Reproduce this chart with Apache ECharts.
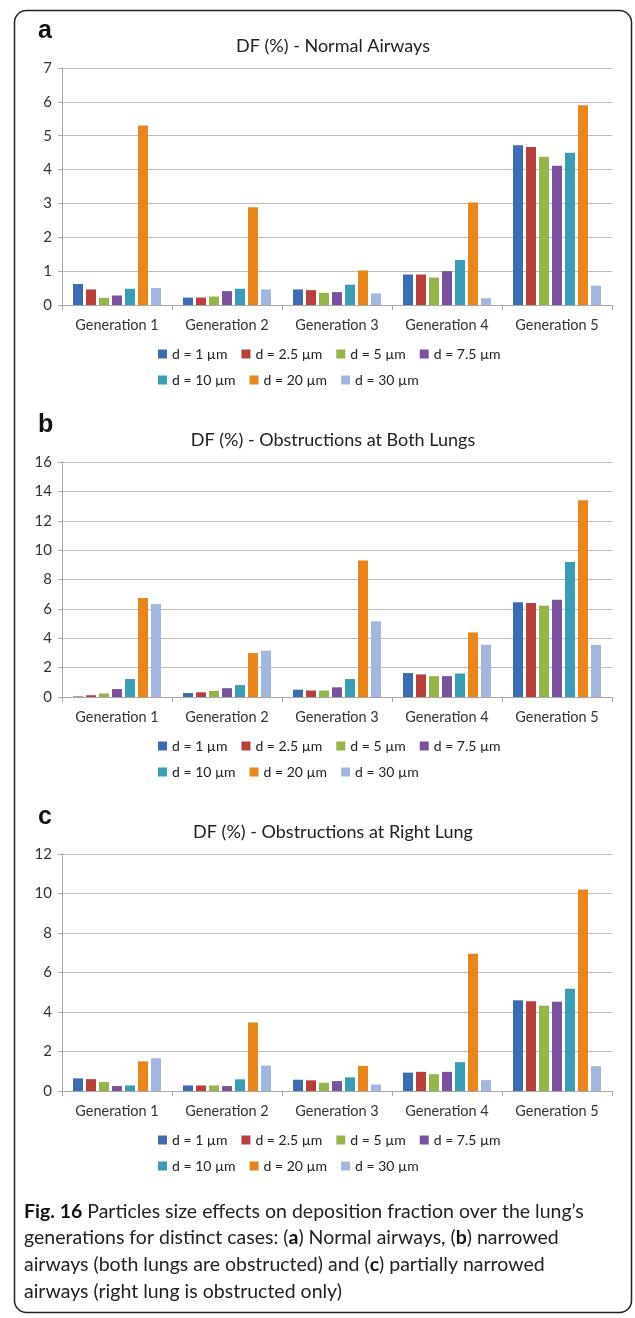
<!DOCTYPE html>
<html>
<head>
<meta charset="utf-8">
<script src="https://cdn.jsdelivr.net/npm/echarts@6/dist/echarts.min.js"></script>
<style>
  html, body { margin: 0; padding: 0; background: #fff; }
  #chart { width: 635px; height: 1318px; }
</style>
</head>
<body>
<div id="chart"></div>
<script>
const generations = ["Generation 1", "Generation 2", "Generation 3", "Generation 4", "Generation 5"];
const sizes = ["d = 1 µm", "d = 2.5 µm", "d = 5 µm", "d = 7.5 µm", "d = 10 µm", "d = 20 µm", "d = 30 µm"];
const colors = ["#3c6db2", "#b8403b", "#93b549", "#7a529f", "#3b9cb6", "#e8851d", "#a2b6e0"];

// deposition fraction (%) per particle size, one value per generation
const normalAirways = [
  [0.62, 0.22, 0.46, 0.90, 4.72],
  [0.46, 0.22, 0.44, 0.90, 4.67],
  [0.21, 0.25, 0.36, 0.81, 4.38],
  [0.28, 0.41, 0.38, 1.00, 4.11],
  [0.48, 0.48, 0.60, 1.33, 4.50],
  [5.30, 2.89, 1.02, 3.03, 5.90],
  [0.50, 0.46, 0.34, 0.20, 0.57]
];
const bothLungs = [
  [0.04, 0.27, 0.50, 1.63, 6.45],
  [0.12, 0.32, 0.44, 1.54, 6.40],
  [0.24, 0.41, 0.44, 1.42, 6.22],
  [0.54, 0.60, 0.66, 1.42, 6.62],
  [1.22, 0.81, 1.22, 1.60, 9.20],
  [6.74, 3.00, 9.30, 4.40, 13.4],
  [6.33, 3.15, 5.15, 3.56, 3.55]
];
const rightLung = [
  [0.64, 0.28, 0.57, 0.93, 4.60],
  [0.60, 0.28, 0.54, 0.97, 4.55],
  [0.45, 0.28, 0.42, 0.85, 4.32],
  [0.25, 0.25, 0.50, 0.97, 4.52],
  [0.28, 0.59, 0.69, 1.46, 5.18],
  [1.50, 3.47, 1.27, 6.95, 10.2],
  [1.66, 1.29, 0.33, 0.55, 1.26]
];

const panels = [
  { letter: "a", title: "DF (%) - Normal Airways", data: normalAirways, max: 7, interval: 1, top: 68, height: 237 },
  { letter: "b", title: "DF (%) - Obstructions at Both Lungs", data: bothLungs, max: 16, interval: 2, top: 462, height: 235 },
  { letter: "c", title: "DF (%) - Obstructions at Right Lung", data: rightLung, max: 12, interval: 2, top: 854, height: 237 }
];

const font = "Lato, 'Open Sans', sans-serif";
const chart = echarts.init(document.getElementById("chart"), null, { renderer: "canvas" });

const grids = [], xAxes = [], yAxes = [], titles = [], legends = [], series = [], graphics = [];

panels.forEach(function (p, i) {
  grids.push({ left: 62, right: 23, top: p.top, height: p.height });
  titles.push({
    text: p.title,
    left: 328, top: p.top - 36, textAlign: "center",
    textStyle: { fontFamily: font, fontSize: 18, fontWeight: "normal", color: "#222" }
  });
  xAxes.push({
    type: "category", gridIndex: i, data: generations,
    axisLine: { lineStyle: { color: "#a8a8a8" } },
    axisTick: { show: true, length: 5, lineStyle: { color: "#a8a8a8" } },
    axisLabel: { fontFamily: font, fontSize: 14.5, color: "#333", margin: 13 }
  });
  yAxes.push({
    type: "value", gridIndex: i, min: 0, max: p.max, interval: p.interval,
    axisLine: { show: true, lineStyle: { color: "#a8a8a8" } },
    axisTick: { show: true, length: 4, lineStyle: { color: "#a8a8a8" } },
    splitLine: { lineStyle: { color: "#bdbdbd", width: 1 } },
    axisLabel: { fontFamily: font, fontSize: 15, color: "#333", margin: 10 }
  });
  const legendTop = p.top + p.height + 37;
  legends.push({
    data: sizes.slice(0, 4), left: 153, top: legendTop, itemWidth: 9, itemHeight: 9, itemGap: 14,
    icon: "rect", textStyle: { fontFamily: font, fontSize: 14, color: "#222" }
  });
  legends.push({
    data: sizes.slice(4), left: 153, top: legendTop + 26, itemWidth: 9, itemHeight: 9, itemGap: 14,
    icon: "rect", textStyle: { fontFamily: font, fontSize: 14, color: "#222" }
  });
  sizes.forEach(function (name, k) {
    series.push({
      name: name, type: "bar", xAxisIndex: i, yAxisIndex: i,
      data: p.data[k], barGap: "30%", barCategoryGap: "20%",
      itemStyle: { color: colors[k] }, animation: false
    });
  });
  graphics.push({
    type: "text", left: 38, top: p.top - 49,
    style: { text: p.letter, font: "bold 25px 'Liberation Sans', Arial, sans-serif", fill: "#111" }
  });
});

// frame
graphics.push({
  type: "rect", left: 12, top: 8, z: -1,
  shape: { width: 617, height: 1302, r: 12 },
  style: { fill: "none", stroke: "#222", lineWidth: 1.5 }
});
// caption
graphics.push({
  type: "text", left: 24, top: 1198,
  style: {
    text: "{b|Fig. 16} Particles size effects on deposition fraction over the lung’s\n" +
          "generations for distinct cases: ({b|a}) Normal airways, ({b|b}) narrowed\n" +
          "airways (both lungs are obstructed) and ({b|c}) partially narrowed\n" +
          "airways (right lung is obstructed only)",
    font: "19.5px " + font, fill: "#222", lineHeight: 26.8,
    rich: { b: { font: "bold 19.5px " + font, fill: "#111" } }
  }
});

chart.setOption({
  animation: false,
  color: colors,
  title: titles,
  grid: grids,
  xAxis: xAxes,
  yAxis: yAxes,
  legend: legends,
  series: series,
  graphic: graphics
});
</script>
</body>
</html>
